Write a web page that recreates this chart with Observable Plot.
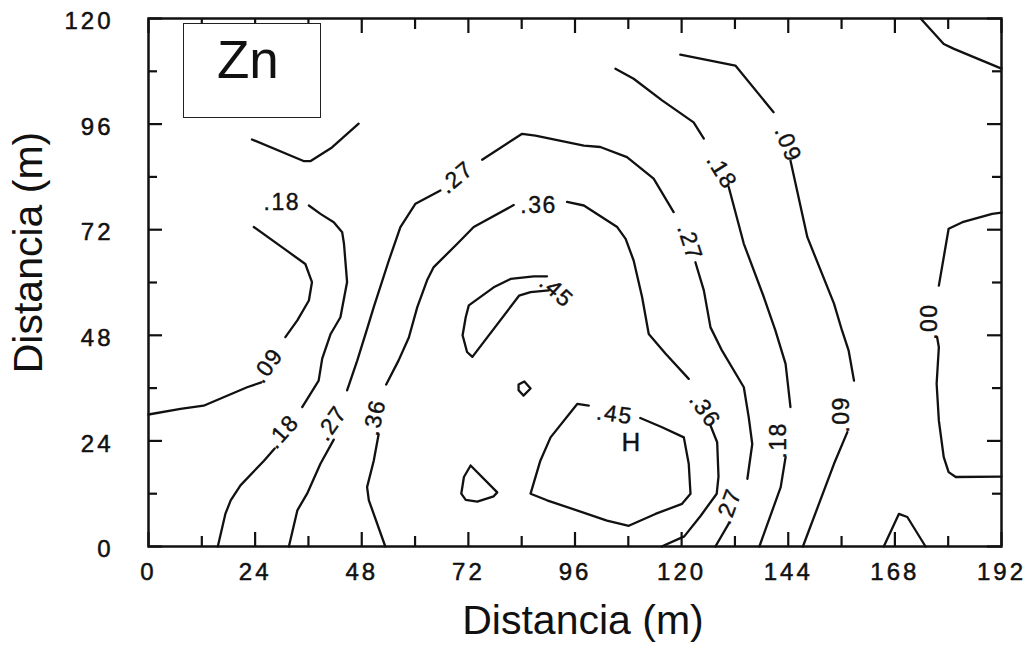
<!DOCTYPE html>
<html>
<head>
<meta charset="utf-8">
<script src="https://cdn.jsdelivr.net/npm/d3@7"></script>
<script src="https://cdn.jsdelivr.net/npm/@observablehq/plot@0.6"></script>
<style>
  body { margin: 0; background: #fff; }
  #wrap { position: relative; width: 1031px; height: 647px; font-family: "Liberation Sans", Arial, Helvetica, sans-serif; }
  #znbox { position: absolute; left: 183px; top: 23px; width: 136px; height: 93px; border: 1.5px solid #222; background: #fff; }
  #znbox span { position: absolute; left: 33px; top: 9px; font-size: 53px; line-height: 53px; color: #111; }
  g[aria-label="x-axis tick label"] text, g[aria-label="y-axis tick label"] text { letter-spacing: 3px; }
</style>
</head>
<body>
<div id="wrap"></div>
<script>
// ---- axis ticks (m) ----
const xMajor = [0, 24, 48, 72, 96, 120, 144, 168, 192];
const xMinor = [12, 36, 60, 84, 108, 132, 156, 180];
const yMajor = [0, 24, 48, 72, 96, 120];
const yMinor = [12, 36, 60, 84, 108];
const axisTitle = "Distancia (m)";
const elementName = "Zn";

// ---- contour polylines, [x (m), y (m)] ----
const c09_left_a = [[23.7,72.6],[30.5,67.7],[35.3,64.2],[36.8,60.1],[36.1,55.9],[33.5,51.4],[30.8,47.6]];
const c09_left_b = [[25.4,37.3],[22.2,36.2],[12.4,32.0],[7.2,31.3],[0,30.0]];
const c18_top    = [[23.3,92.5],[34.9,87.6],[36.5,87.6],[41.3,90.7],[47.3,96.1]];
const c18_left_a = [[36.1,77.5],[38.7,75.6],[41.7,73.7],[43.6,71.4],[44.0,68.8],[44.7,60.1],[43.2,52.1],[41.0,48.3],[39.1,42.7],[38.3,37.7],[34.6,31.7]];
const c18_left_b = [[28.4,22.3],[26.0,19.5],[20.7,13.9],[18.5,10.5],[17.3,7.4],[15.6,0]];
const c27_a = [[41.7,24.3],[38.7,18.8],[35.7,12.0],[33.5,8.2],[31.6,0]];
const c27_b = [[44.7,35.5],[47.0,42.3],[49.1,49.1],[50.7,54.4],[54.1,65.0],[56.7,72.6],[60.1,77.9],[65.7,80.9]];
const c27_c = [[75.1,87.9],[84.1,93.8],[87.1,93.4],[98.0,91.1],[101.7,90.8],[107.7,88.5],[113.7,83.6],[118.2,76.0]];
const c27_d = [[123.1,64.6],[125.0,58.2],[126.5,49.8],[129.1,44.5],[134.0,36.2],[135.1,29.4],[135.9,23.3],[134.8,15.4]];
const c27_e = [[130.6,5.2],[127.6,0]];
const c36_a = [[53.3,0],[49.6,10.5],[49.2,13.5],[50.7,19.5],[51.8,25.5]];
const c36_b = [[53.5,36.8],[56.3,42.3],[58.6,47.5],[60.5,54.4],[62.7,60.5],[64.2,63.5],[69.5,68.8],[73.2,72.6],[82.2,77.6]];
const c36_c = [[94.2,78.3],[98.0,77.5],[105.5,72.6],[107.4,69.9],[109.2,65.0],[111.1,56.7],[112.6,48.3],[116.4,43.8],[121.6,38.1]];
const c36_d = [[126.5,27.5],[128.0,23.7],[128.3,15.9],[127.9,12.0],[124.3,7.0],[120.6,2.3],[115.5,0]];
const c45_upper = [[89.7,61.4],[86.7,61.4],[81.5,60.8],[77.7,58.9],[72.1,54.8],[71.4,52.1],[70.7,48.0],[71.7,44.2],[72.9,43.1],[83.4,57.0],[86.0,57.8],[90.1,58.2]];
const c45_lower = [[110.7,29.2],[115.6,27.1],[120.5,24.8],[121.6,18.8],[122.0,12.0],[120.1,9.7],[114.1,7.4],[108.1,4.7],[103.2,5.9],[89.7,10.5],[86.0,12.0],[88.2,19.5],[90.5,24.8],[96.5,32.4],[99.1,32.0]];
const c45_diamond = [[83.3,36.8],[84.6,37.5],[86.0,35.9],[84.4,34.3],[83.3,35.5],[83.3,36.8]];
const c45_triangle = [[72.5,18.4],[78.5,12.3],[77.7,11.4],[74.0,10.2],[71.4,10.6],[70.4,12.0],[71.0,15.8],[72.5,18.4]];
const c18_right_a = [[105.1,108.6],[109.2,106.3],[115.6,101.4],[122.7,96.4],[125.0,92.7]];
const c18_right_b = [[130.6,81.7],[134.0,68.8],[138.5,56.7],[141.1,49.1],[143.4,41.5],[144.5,31.7]];
const c18_right_c = [[143.4,20.3],[142.3,13.5],[137.5,0]];
const c09_right_a = [[119.7,111.8],[132.1,109.3],[140.7,98.7]];
const c09_right_b = [[144.5,87.7],[148.3,70.3],[154.3,55.2],[156.1,49.1],[157.6,44.5],[158.8,37.7]];
const c09_right_c = [[157.3,26.0],[154.3,18.8],[147.3,0]];
const c09_corner = [[173.8,120],[179.0,114.2],[181.3,113.1],[192,108.6]];
const c09_bump = [[165.5,0],[168.9,7.4],[170.8,6.7],[174.9,0]];
const c00_a = [[192,75.9],[189.9,75.6],[183.2,73.7],[180.1,72.2],[177.9,59.3]];
const c00_b = [[177.5,47.6],[177.9,45.3],[177.4,37.0],[177.9,28.6],[179.0,20.3],[180.1,16.9],[181.7,15.8],[192,15.9]];

// ---- contour labels ----
const labelText  = [".18", ".09", ".18", ".27", ".36", ".27", ".36", ".45", ".45", ".27", ".18", ".09", ".36", ".27", ".18", ".09", ".00"];
const labelX     = [30.0, 26.8, 30.2, 41.2, 50.9, 69.3, 87.8, 91.8, 104.9, 121.8, 129.0, 143.9, 125.2, 130.6, 141.8, 156.0, 175.8];
const labelY     = [78.2, 41.1, 26.1, 28.0, 29.3, 83.9, 77.5, 58.0, 30.0, 69.1, 85.2, 91.4, 30.9, 9.1, 24.1, 30.0, 51.1];
const labelAngle = [0, -54, -48, -55, -78, -40, 0, 42, 8, 72, 58, 68, 55, -70, -90, -90, -90];
const highText = ["H"];
const highX = [108.6];
const highY = [23.6];

// ---- build tables ----
const segments = {c09_left_a, c09_left_b, c18_top, c18_left_a, c18_left_b, c27_a, c27_b, c27_c, c27_d, c27_e,
  c36_a, c36_b, c36_c, c36_d, c45_upper, c45_lower, c45_diamond, c45_triangle,
  c18_right_a, c18_right_b, c18_right_c, c09_right_a, c09_right_b, c09_right_c, c09_corner, c09_bump, c00_a, c00_b};
const lineRows = Object.entries(segments).flatMap(([id, pts]) => pts.map(([x, y]) => ({id, x, y})));
const labelRows = labelText.map((t, i) => ({text: t, x: labelX[i], y: labelY[i], angle: labelAngle[i]}));
const highRows = highText.map((t, i) => ({text: t, x: highX[i], y: highY[i]}));

const ink = "#111";
const plot = Plot.plot({
  width: 1031,
  height: 647,
  marginLeft: 148,
  marginRight: 30,
  marginTop: 18,
  marginBottom: 101,
  x: {domain: [0, 192]},
  y: {domain: [0, 120]},
  style: {fontFamily: "'Liberation Sans', Arial, Helvetica, sans-serif", background: "#fff", color: ink},
  marks: [
    Plot.line(lineRows, {x: "x", y: "y", z: "id", stroke: ink, strokeWidth: 2.3, strokeLinejoin: "round", curve: "linear"}),
    Plot.text(labelRows, {x: "x", y: "y", text: "text", rotate: "angle", fontSize: 23, fill: ink, stroke: ink, strokeWidth: 0.4, textAnchor: "middle", lineAnchor: "middle"}),
    Plot.text(highRows, {x: "x", y: "y", text: "text", fontSize: 26, fill: ink, stroke: ink, strokeWidth: 0.4, textAnchor: "middle", lineAnchor: "middle"}),
    // ticks inside the frame
    Plot.axisX(xMajor, {anchor: "bottom", tickSize: -14, fill: "none", strokeWidth: 2.2, label: null}),
    Plot.axisX(xMinor, {anchor: "bottom", tickSize: -10, fill: "none", strokeWidth: 2.2, label: null}),
    Plot.axisX(xMajor, {anchor: "top", tickSize: -14, fill: "none", strokeWidth: 2.2, label: null}),
    Plot.axisX(xMinor, {anchor: "top", tickSize: -10, fill: "none", strokeWidth: 2.2, label: null}),
    Plot.axisY(yMajor, {anchor: "left", tickSize: -14, fill: "none", strokeWidth: 2.2, label: null}),
    Plot.axisY(yMinor, {anchor: "left", tickSize: -9, fill: "none", strokeWidth: 2.2, label: null}),
    Plot.axisY(yMajor, {anchor: "right", tickSize: -15, fill: "none", strokeWidth: 2.2, label: null}),
    Plot.axisY(yMinor, {anchor: "right", tickSize: -10, fill: "none", strokeWidth: 2.2, label: null}),
    // tick labels
    Plot.axisX(xMajor, {anchor: "bottom", tickSize: 0, tickPadding: 16, fontSize: 24, textStroke: ink, textStrokeWidth: 0.5, label: null}),
    Plot.axisY(yMajor, {anchor: "left", tickSize: 0, tickPadding: 35, fontSize: 24, dy: 3, textStroke: ink, textStrokeWidth: 0.5, label: null}),
    // axis titles
    Plot.text([axisTitle], {text: d => d, frameAnchor: "bottom", dx: 8, dy: 74, fontSize: 41, fill: ink, textAnchor: "middle", lineAnchor: "middle"}),
    Plot.text([axisTitle], {text: d => d, frameAnchor: "left", rotate: -90, dx: -120, dy: -30, fontSize: 41, fill: ink, textAnchor: "middle", lineAnchor: "middle"}),
    Plot.frame({stroke: ink, strokeWidth: 2.5})
  ]
});

const textGroups = plot.querySelectorAll('g[aria-label="text"]');
if (textGroups[0]) textGroups[0].style.letterSpacing = "1.5px";

const wrap = document.getElementById("wrap");
wrap.appendChild(plot);
const box = document.createElement("div");
box.id = "znbox";
const span = document.createElement("span");
span.textContent = elementName;
box.appendChild(span);
wrap.appendChild(box);
</script>
</body>
</html>
